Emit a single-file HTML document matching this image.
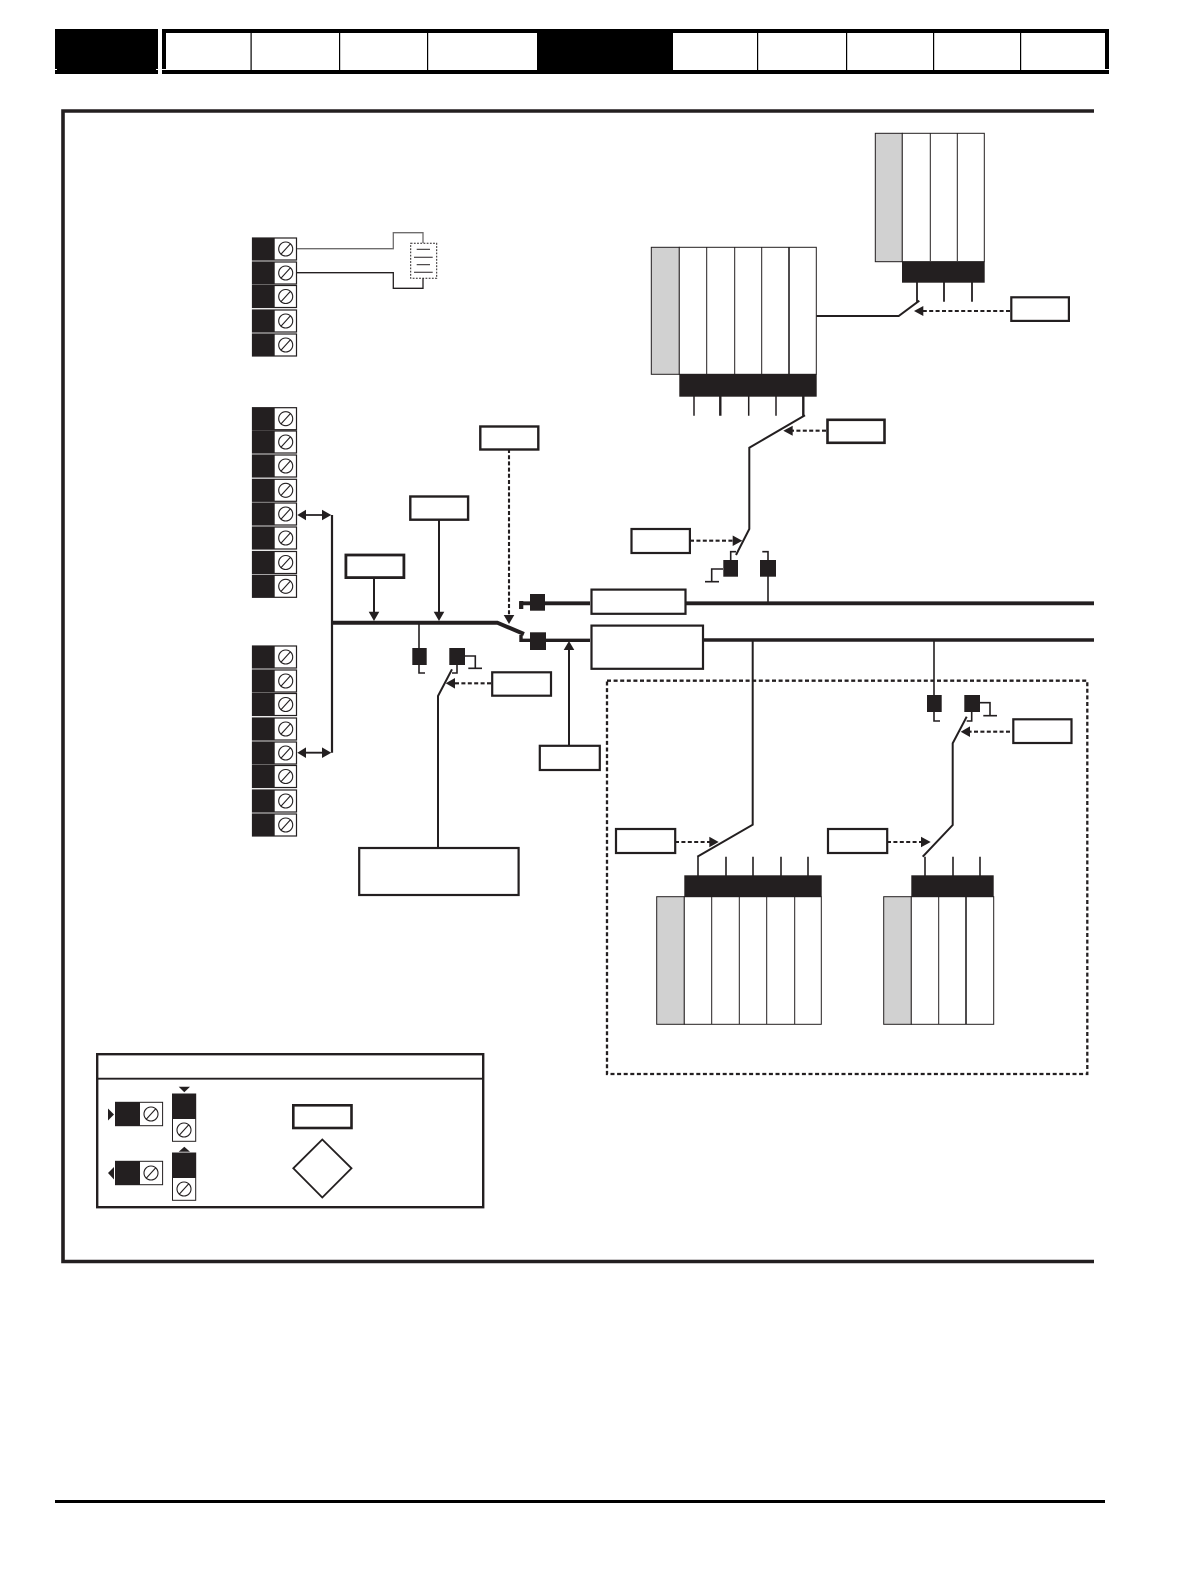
<!DOCTYPE html>
<html>
<head>
<meta charset="utf-8">
<style>
html,body{margin:0;padding:0;background:#fff;width:1190px;height:1580px;overflow:hidden}
svg{display:block}
</style>
</head>
<body>
<svg xmlns="http://www.w3.org/2000/svg" width="1190" height="1580" viewBox="0 0 1190 1580">
<defs>
<g id="t">
<rect x="252.5" y="-11" width="44" height="22" fill="#fff" stroke="#231f20" stroke-width="1.2"/>
<rect x="252" y="-11" width="22.7" height="22" fill="#231f20"/>
<circle cx="285.7" cy="0" r="7" fill="none" stroke="#231f20" stroke-width="1.1"/>
<line x1="280.7" y1="5.5" x2="290.7" y2="-5.5" stroke="#231f20" stroke-width="1.1"/>
</g>
<g id="c"><circle r="7" fill="none" stroke="#231f20" stroke-width="1.1"/><line x1="-5" y1="5.5" x2="5" y2="-5.5" stroke="#231f20" stroke-width="1.1"/></g>
</defs>

<!-- header -->
<rect x="55" y="29" width="103" height="45" fill="#000"/>
<rect x="162" y="29" width="947" height="45" fill="#000"/>
<rect x="166" y="33" width="371" height="37" fill="#fff"/>
<rect x="673" y="33" width="432" height="37" fill="#fff"/>
<g fill="#000">
<rect x="250.5" y="33" width="1.2" height="37"/><rect x="339" y="33" width="1.2" height="37"/><rect x="427" y="33" width="1.2" height="37"/>
<rect x="757" y="33" width="1.2" height="37"/><rect x="846" y="33" width="1.2" height="37"/><rect x="933" y="33" width="1.2" height="37"/><rect x="1020" y="33" width="1.2" height="37"/>
</g>
<g fill="#fff"><rect x="55" y="69" width="2" height="1"/><rect x="156" y="69" width="2" height="1"/><rect x="162" y="69" width="4" height="1"/><rect x="1105" y="69" width="4" height="1"/></g>

<!-- frame -->
<path d="M1094 111H63V1261.5H1094" fill="none" stroke="#231f20" stroke-width="3.6"/>
<rect x="55" y="1500" width="1050" height="3" fill="#000"/>

<!-- terminals -->
<use href="#t" y="249"/><use href="#t" y="273"/><use href="#t" y="296.5"/><use href="#t" y="321"/><use href="#t" y="345"/>
<use href="#t" y="418.7"/><use href="#t" y="442"/><use href="#t" y="466"/><use href="#t" y="490.3"/><use href="#t" y="514"/><use href="#t" y="538"/><use href="#t" y="562.5"/><use href="#t" y="586.3"/>
<use href="#t" y="657"/><use href="#t" y="681"/><use href="#t" y="704.5"/><use href="#t" y="729"/><use href="#t" y="753"/><use href="#t" y="776.5"/><use href="#t" y="801"/><use href="#t" y="825"/>

<!-- connector -->
<path d="M297 248.7H393.3V232.7H423V243" fill="none" stroke="#6f6d6d" stroke-width="1.3"/>
<path d="M297 272.7H393.3V288.3H423V278.5" fill="none" stroke="#231f20" stroke-width="1.3"/>
<rect x="410.7" y="243.3" width="26" height="35" fill="#fff" stroke="#231f20" stroke-width="1" stroke-dasharray="1.8 1.4"/>
<g stroke="#231f20" stroke-width="1"><line x1="416.7" y1="249.3" x2="430" y2="249.3"/><line x1="414" y1="257.3" x2="432.7" y2="257.3"/><line x1="416.7" y1="264.7" x2="430" y2="264.7"/><line x1="414" y1="272.3" x2="432.7" y2="272.3"/></g>

<!-- module top right -->
<rect x="875.3" y="133.3" width="27" height="128.4" fill="#d1d1d1" stroke="#231f20" stroke-width="1"/>
<rect x="902.3" y="133.3" width="82" height="128.4" fill="#fff" stroke="#231f20" stroke-width="1"/>
<path d="M930.3 133V261M957.3 133V261" stroke="#231f20" stroke-width="1"/>
<rect x="902" y="261.3" width="82.7" height="21.4" fill="#231f20"/>
<path d="M917 282V301.7M944 282V301.7M972 282V301.7" stroke="#231f20" stroke-width="1.8"/>
<path d="M816.7 316H898.7L919.3 300.7" fill="none" stroke="#231f20" stroke-width="2"/>
<path d="M1010 311H922" stroke="#231f20" stroke-width="2.1" stroke-dasharray="4 2.4"/>
<path d="M914 311L923.3 306V316Z" fill="#231f20"/>
<rect x="1011.3" y="297.3" width="57.6" height="23.6" fill="#fff" stroke="#231f20" stroke-width="2.2"/>

<!-- module top left -->
<rect x="651.3" y="247.3" width="28" height="127" fill="#d1d1d1" stroke="#231f20" stroke-width="1"/>
<rect x="679.3" y="247.3" width="137" height="127" fill="#fff" stroke="#231f20" stroke-width="1"/>
<path d="M706.7 247V374M734.7 247V374M761.7 247V374" stroke="#231f20" stroke-width="1"/>
<path d="M789 247V374" stroke="#231f20" stroke-width="1.6"/>
<rect x="679.3" y="374" width="137.4" height="22.7" fill="#231f20"/>
<path d="M694 396V415.7M776 396V415.7M748.7 396V415.7" stroke="#231f20" stroke-width="1.5"/>
<path d="M720.3 396V415.7M803.3 396V415.7" stroke="#231f20" stroke-width="2.4"/>
<path d="M805 415.3L749.3 447.7V529L736 555" fill="none" stroke="#231f20" stroke-width="2"/>
<path d="M826 430.7H790" stroke="#231f20" stroke-width="2.1" stroke-dasharray="4 2.4"/>
<path d="M783.3 430.7L792.7 425.7V435.7Z" fill="#231f20"/>
<rect x="827.5" y="419.8" width="57" height="23" fill="#fff" stroke="#231f20" stroke-width="2.6"/>
<path d="M690 540.7H734" stroke="#231f20" stroke-width="2.1" stroke-dasharray="4 2.4"/>
<path d="M742.3 540.7L732.7 535.5V546Z" fill="#231f20"/>
<rect x="631.5" y="529" width="58.4" height="24" fill="#fff" stroke="#231f20" stroke-width="2.2"/>
<rect x="723.3" y="560" width="14.7" height="16.7" fill="#231f20"/>
<rect x="760" y="560" width="16" height="16.7" fill="#231f20"/>
<path d="M730.7 560V551.7H736M723 569H711.7V581.7M705 581.7H719M768 576V603M768 560V551.7H762.3" fill="none" stroke="#231f20" stroke-width="1.6"/>

<!-- buses -->
<path d="M521 609V603.3H590M685 603.3H1094" fill="none" stroke="#231f20" stroke-width="3.8"/>
<rect x="519.3" y="601" width="4" height="8" fill="#231f20"/>
<rect x="530" y="594" width="15" height="16.7" fill="#231f20"/>
<path d="M332 622.7H497.3L524 634" fill="none" stroke="#231f20" stroke-width="4"/>
<path d="M521 635V640.3H590" fill="none" stroke="#231f20" stroke-width="3.4"/>
<rect x="530" y="632.3" width="16" height="17.7" fill="#231f20"/>
<path d="M703 640H1094" stroke="#231f20" stroke-width="3.6"/>
<rect x="591.5" y="589.6" width="94" height="24.2" fill="#fff" stroke="#231f20" stroke-width="2.2"/>
<rect x="591.5" y="625.6" width="111.5" height="43.2" fill="#fff" stroke="#231f20" stroke-width="2.2"/>

<!-- vertical bus with double arrows -->
<path d="M332 515V752.7" stroke="#231f20" stroke-width="2.2"/>
<path d="M300 515H328M300 752.7H328" stroke="#231f20" stroke-width="1.8"/>
<path d="M297.3 515L306 509.7V520.3ZM331.3 515L322 509.7V520.3ZM297.3 752.7L306 747.4V758ZM331.3 752.7L322 747.4V758Z" fill="#231f20"/>

<!-- boxes A B C -->
<path d="M374 578V613M439 520V613" stroke="#231f20" stroke-width="2"/>
<path d="M374 621L368.7 611.7H379.3ZM439 621L433.7 611.7H444.3Z" fill="#231f20"/>
<rect x="345.9" y="555" width="58" height="22.6" fill="#fff" stroke="#231f20" stroke-width="2.8"/>
<rect x="410.3" y="496.5" width="57.8" height="23.2" fill="#fff" stroke="#231f20" stroke-width="2.4"/>
<path d="M509 449V617" stroke="#231f20" stroke-width="2.1" stroke-dasharray="4 2.2"/>
<path d="M509 624L503.7 615H514.3Z" fill="#231f20"/>
<rect x="480.3" y="426.5" width="58" height="23" fill="#fff" stroke="#231f20" stroke-width="2.4"/>

<!-- lower-left switch -->
<rect x="412.3" y="648" width="14.4" height="17" fill="#231f20"/>
<rect x="449.3" y="648" width="15.7" height="17" fill="#231f20"/>
<path d="M419 623V648M419 665V673H425M465 656H475.3V668.3M468.3 668.3H482M457 665V673H452" fill="none" stroke="#231f20" stroke-width="1.6"/>
<path d="M452 669.3L438 696V848" fill="none" stroke="#231f20" stroke-width="2"/>
<path d="M491 683.3H452" stroke="#231f20" stroke-width="2.1" stroke-dasharray="4 2.4"/>
<path d="M445.7 683.3L455 678V688.6Z" fill="#231f20"/>
<rect x="492.2" y="672.3" width="58.8" height="23.4" fill="#fff" stroke="#231f20" stroke-width="2.2"/>
<rect x="359.2" y="848" width="159.4" height="47" fill="#fff" stroke="#231f20" stroke-width="2.2"/>

<!-- up arrow box -->
<path d="M569 648V746" stroke="#231f20" stroke-width="2"/>
<path d="M569 641L563.7 650H574.3Z" fill="#231f20"/>
<rect x="539.8" y="745.8" width="60" height="24.2" fill="#fff" stroke="#231f20" stroke-width="2.2"/>

<!-- dashed enclosure -->
<rect x="607" y="680.7" width="480.3" height="393.3" fill="none" stroke="#231f20" stroke-width="2.3" stroke-dasharray="4 2.6"/>

<!-- lower right branch -->
<path d="M752.7 640V824.7L697.3 856.7" fill="none" stroke="#231f20" stroke-width="2"/>
<path d="M934 640V695M934 712V721H940M980 702.7H990V715.7M983.3 715.7H997M971.7 712V721H966.7" fill="none" stroke="#231f20" stroke-width="1.6"/>
<rect x="927" y="695" width="14.7" height="17" fill="#231f20"/>
<rect x="964.3" y="695" width="15.7" height="17" fill="#231f20"/>
<path d="M966.7 716.7L952.7 743.3V825L922.7 856.7" fill="none" stroke="#231f20" stroke-width="2"/>
<path d="M1010 731.7H967" stroke="#231f20" stroke-width="2.1" stroke-dasharray="4 2.4"/>
<path d="M960.7 731.7L970 726.4V737Z" fill="#231f20"/>
<rect x="1013.3" y="719.3" width="58.2" height="23.7" fill="#fff" stroke="#231f20" stroke-width="2.2"/>

<path d="M675 842H712" stroke="#231f20" stroke-width="2.1" stroke-dasharray="4 2.4"/>
<path d="M718.7 842L709.3 836.7V847.3Z" fill="#231f20"/>
<rect x="616" y="829" width="59.2" height="24" fill="#fff" stroke="#231f20" stroke-width="2.2"/>
<path d="M887 842H924" stroke="#231f20" stroke-width="2.1" stroke-dasharray="4 2.4"/>
<path d="M930.7 842L921 836.7V847.3Z" fill="#231f20"/>
<rect x="828" y="829" width="59.2" height="24" fill="#fff" stroke="#231f20" stroke-width="2.2"/>

<!-- module bottom left -->
<path d="M698 856.7V876M726 856.7V876M753 856.7V876M781 856.7V876M808 856.7V876" stroke="#231f20" stroke-width="1.6"/>
<rect x="684.3" y="875.3" width="137.4" height="21.4" fill="#231f20"/>
<rect x="656.7" y="896.7" width="27.6" height="127.6" fill="#d1d1d1" stroke="#231f20" stroke-width="1"/>
<rect x="684.3" y="896.7" width="137" height="127.6" fill="#fff" stroke="#231f20" stroke-width="1"/>
<path d="M711.7 896V1024M739.3 896V1024M766.7 896V1024M794.7 896V1024" stroke="#231f20" stroke-width="1"/>

<!-- module bottom right -->
<path d="M925 856.7V876M953 856.7V876M980 856.7V876" stroke="#231f20" stroke-width="1.6"/>
<rect x="911.3" y="875.3" width="82.4" height="21.4" fill="#231f20"/>
<rect x="883.7" y="896.7" width="27.6" height="127.6" fill="#d1d1d1" stroke="#231f20" stroke-width="1"/>
<rect x="911.3" y="896.7" width="82.4" height="127.6" fill="#fff" stroke="#231f20" stroke-width="1"/>
<path d="M938.7 896V1024" stroke="#231f20" stroke-width="1"/>
<path d="M966 896V1024" stroke="#231f20" stroke-width="1.6"/>

<!-- legend -->
<rect x="97.2" y="1054.2" width="386" height="153" fill="#fff" stroke="#231f20" stroke-width="2.4"/>
<path d="M97 1078.7H483" stroke="#231f20" stroke-width="1.8"/>
<rect x="115.5" y="1102.3" width="47.1" height="23.4" fill="#fff" stroke="#231f20" stroke-width="1"/>
<rect x="115.3" y="1102" width="24.7" height="24" fill="#231f20"/>
<use href="#c" x="151" y="1114"/>
<path d="M114 1114.5L108 1108.5V1120.5Z" fill="#231f20"/>
<rect x="115.5" y="1161.3" width="47.1" height="23.4" fill="#fff" stroke="#231f20" stroke-width="1"/>
<rect x="115.3" y="1161" width="24.7" height="24" fill="#231f20"/>
<use href="#c" x="151" y="1173"/>
<path d="M108 1173L114 1167V1179.5Z" fill="#231f20"/>
<rect x="172.5" y="1094" width="23.2" height="47.3" fill="#fff" stroke="#231f20" stroke-width="1"/>
<rect x="172" y="1094" width="24" height="25" fill="#231f20"/>
<use href="#c" x="184" y="1130"/>
<path d="M178.7 1086.7H190L184.3 1092.3Z" fill="#231f20"/>
<rect x="172.5" y="1153" width="23.2" height="47.3" fill="#fff" stroke="#231f20" stroke-width="1"/>
<rect x="172" y="1153" width="24" height="25" fill="#231f20"/>
<use href="#c" x="184" y="1189"/>
<path d="M178.7 1151.7H190L184.3 1146.7Z" fill="#231f20"/>
<rect x="293.3" y="1105.3" width="58.2" height="22.7" fill="#fff" stroke="#231f20" stroke-width="2.6"/>
<path d="M322.3 1139.5L351.5 1168.3L322.3 1197.5L293.3 1168.3Z" fill="#fff" stroke="#231f20" stroke-width="1.8"/>
</svg>
</body>
</html>
